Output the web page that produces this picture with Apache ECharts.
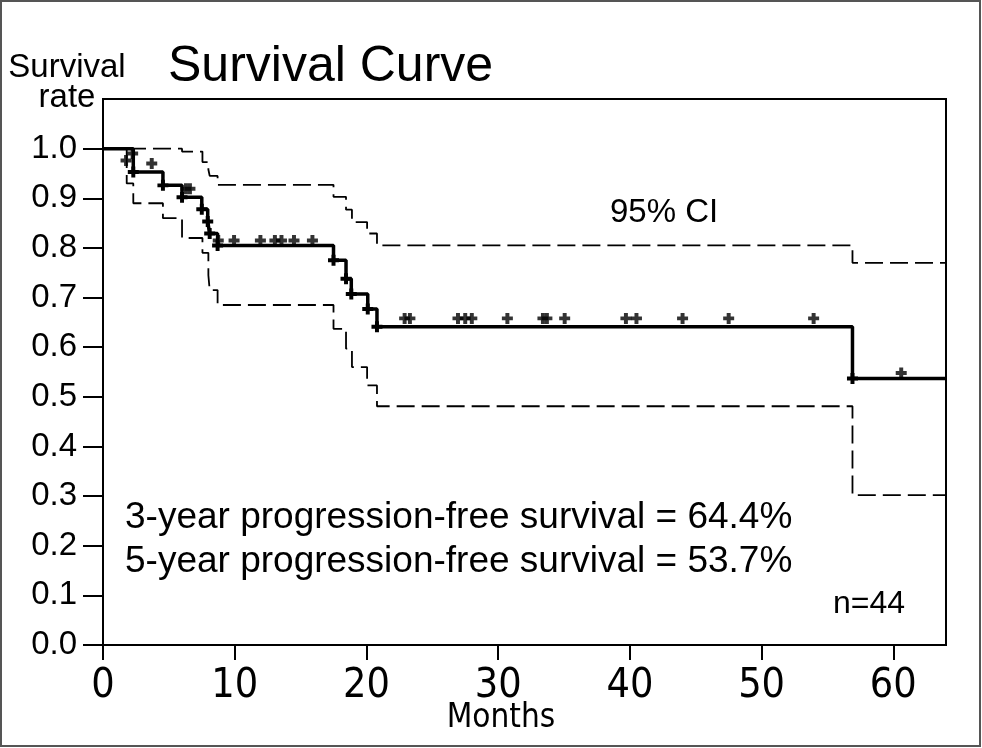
<!DOCTYPE html>
<html>
<head>
<meta charset="utf-8">
<script src="https://cdn.jsdelivr.net/npm/echarts@6/dist/echarts.min.js"></script>
<style>
html,body{margin:0;padding:0;background:#fff;}
#chart{width:982px;height:748px;}
</style>
</head>
<body>
<div id="chart"></div>
<script>
// ---- data ----
const xMax = 64;
const xTicks = [0, 10, 20, 30, 40, 50, 60];
const yTicks = [0, 0.1, 0.2, 0.3, 0.4, 0.5, 0.6, 0.7, 0.8, 0.9, 1.0];

// Kaplan-Meier estimate: event times and survival after each drop
const kmTimes = [2.3, 4.55, 6.0, 7.5, 7.95, 8.1, 8.7, 17.5, 18.45, 18.85, 20.1, 20.8, 56.9];
const kmSurv  = [0.953, 0.926, 0.902, 0.878, 0.853, 0.829, 0.805, 0.775, 0.738, 0.707, 0.677, 0.641, 0.537];

// 95% CI upper bound
const upperTimes = [6.0, 7.55, 8.0, 8.1, 8.7, 17.5, 18.45, 18.9, 20.05, 20.8, 56.9];
const upperSurv  = [0.994, 0.973, 0.958, 0.945, 0.927, 0.903, 0.877, 0.852, 0.829, 0.805, 0.770];

// 95% CI lower bound
const lowerTimes = [1.8, 2.3, 4.55, 6.0, 7.55, 8.0, 8.1, 8.7, 17.5, 18.45, 18.9, 20.05, 20.8, 56.9];
const lowerSurv  = [0.93, 0.89, 0.86, 0.82, 0.79, 0.745, 0.715, 0.685, 0.637, 0.597, 0.56, 0.523, 0.481, 0.302];

// censoring marks (positions of the "+" marks)
const censorTimes = [1.75, 2.25, 3.7, 6.3, 6.6,
  8.75, 9.95, 11.95, 13.05, 13.55, 14.5, 15.9,
  22.9, 23.3, 26.95, 27.5, 28.0, 30.7, 33.4, 33.7, 35.05, 39.7, 40.5, 44.0, 47.5, 53.95,
  60.6];
const censorSurv = [0.976, 0.99, 0.970, 0.919, 0.919,
  0.815, 0.815, 0.815, 0.815, 0.815, 0.815, 0.815,
  0.658, 0.658, 0.658, 0.658, 0.658, 0.658, 0.658, 0.658, 0.658, 0.658, 0.658, 0.658, 0.658, 0.658,
  0.548];

// ---- build ----
function stepData(ts, ss) {
  const d = [[0, 1]];
  ts.forEach((t, i) => d.push([t, ss[i]]));
  d.push([xMax, ss[ss.length - 1]]);
  return d;
}
const plus = 'path://M3.2,0H6.8V3.2H10V6.8H6.8V10H3.2V6.8H0V3.2H3.2Z';
const kmData = stepData(kmTimes, kmSurv).map((p, i, a) =>
  (i === 0 || i === a.length - 1) ? { value: p, symbol: 'none' } : { value: p });
const censorData = censorTimes.map((t, i) => [t, censorSurv[i]]);

const chart = echarts.init(document.getElementById('chart'), null, { renderer: 'canvas' });
const sans = '"Liberation Sans", Arial, sans-serif';
const narrow = '"Liberation Sans Narrow", "Arial Narrow", "DejaVu Sans Condensed", sans-serif';
const txt = (text, x, y, size, align, family) => ({
  type: 'text', x: x, y: y, z: 100,
  style: { text: text, fill: '#000', font: size + 'px ' + (family || sans),
           align: align || 'left', verticalAlign: 'middle' }
});

chart.setOption({
  animation: false,
  backgroundColor: '#fff',
  grid: { left: 103, right: 36, top: 99, bottom: 103, show: true, borderColor: '#000', borderWidth: 2, containLabel: false },
  xAxis: {
    type: 'value', min: 0, max: xMax, interval: 10,
    axisLine: { show: true, onZero: false, lineStyle: { color: '#000', width: 2 } },
    axisTick: { show: true, customValues: xTicks, length: 15, inside: false, lineStyle: { color: '#000', width: 2 } },
    axisLabel: { customValues: xTicks, color: '#000', fontSize: 41, fontFamily: narrow, margin: 21 },
    splitLine: { show: false }
  },
  yAxis: {
    type: 'value', min: 0, max: 1.1, interval: 0.1,
    axisLine: { show: true, onZero: false, lineStyle: { color: '#000', width: 2 } },
    axisTick: { show: true, customValues: yTicks, length: 20, inside: false, lineStyle: { color: '#000', width: 2 } },
    axisLabel: { customValues: yTicks, color: '#000', fontSize: 33, fontFamily: sans, margin: 26,
                 formatter: v => v.toFixed(1) },
    splitLine: { show: false }
  },
  series: [
    { name: 'upper', type: 'line', step: 'end', data: stepData(upperTimes, upperSurv), showSymbol: false, z: 2,
      lineStyle: { color: '#000', width: 1.8, type: [18, 7] } },
    { name: 'lower', type: 'line', step: 'end', data: stepData(lowerTimes, lowerSurv), showSymbol: false, z: 2,
      lineStyle: { color: '#000', width: 1.8, type: [18, 7] } },
    { name: 'KM', type: 'line', step: 'end', data: kmData, symbol: plus, symbolSize: 11, z: 3,
      itemStyle: { color: '#000' }, lineStyle: { color: '#000', width: 3.5 } },
    { name: 'censored', type: 'scatter', data: censorData, symbol: plus, symbolSize: 11, z: 4,
      itemStyle: { color: '#000' } }
  ],
  graphic: [
    { type: 'rect', shape: { x: 1, y: 1, width: 979, height: 745 }, style: { fill: 'none', stroke: '#555', lineWidth: 2 }, z: 100 },
    txt('Survival Curve', 168, 67, 50),
    txt('Survival', 67, 68, 33, 'center'),
    txt('rate', 67, 98, 33, 'center'),
    txt('95% CI', 610, 213, 33),
    txt('3-year progression-free survival = 64.4%', 125, 518, 37),
    txt('5-year progression-free survival = 53.7%', 125, 562, 37),
    txt('n=44', 833, 604, 32),
    txt('Months', 501, 718, 33, 'center', narrow)
  ]
});
</script>
</body>
</html>
